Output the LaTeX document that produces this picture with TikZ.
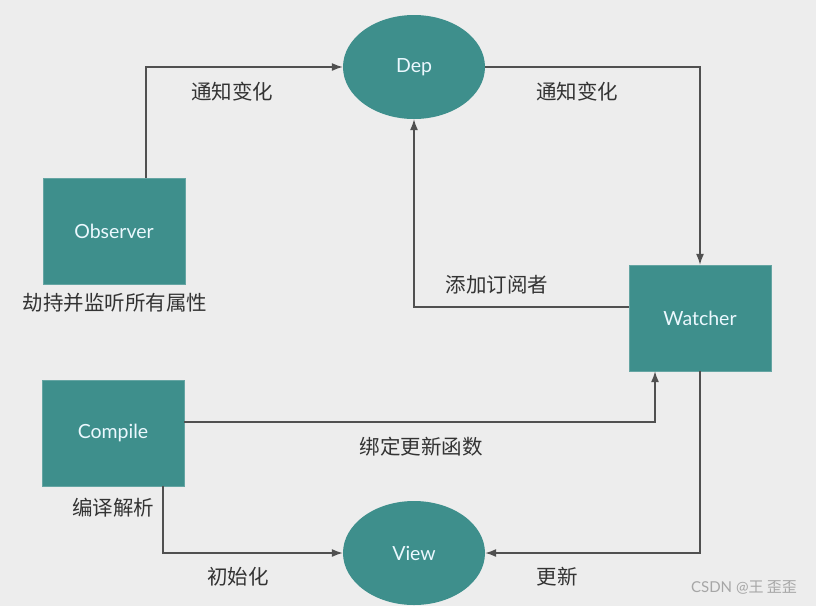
\documentclass[tikz,border=0pt]{standalone}
\usepackage{fontspec}
\setmainfont{Lato}
\newfontfamily\cjk{Noto Sans CJK SC}
\usetikzlibrary{arrows.meta,calc,shapes.geometric}

\definecolor{fond}{HTML}{EDEDED}
\definecolor{sarcelle}{HTML}{3E8F8C}
\definecolor{trait}{HTML}{505050}
\definecolor{texte}{HTML}{333333}

\tikzset{
    boite/.style={fill=sarcelle, draw=sarcelle!80!white, minimum width=142pt, minimum height=106pt,
        text=white!92!cyan, font=\fontsize{19.5}{22}\selectfont},
    bulle/.style={ellipse, fill=sarcelle, minimum width=142pt, minimum height=104pt,
        text=white!92!cyan, font=\fontsize{19.5}{22}\selectfont},
    fleche/.style={draw=trait, line width=1.3pt, -{Latex[length=11pt,width=8pt]}},
    etiquette/.style={text=texte, font=\cjk\fontsize{20.5}{23}\selectfont}
}

\begin{document}
\begin{tikzpicture}[x=1pt, y=-1pt]

    % fond
    \fill[fond] (0, 0) rectangle (816, 606);
    \useasboundingbox (0, 0) rectangle (816, 606);

    \node[bulle] (dep) at (414, 67) {Dep};
    \node[bulle] (view) at (414, 553) {View};

    \node[boite] (obs) at (114, 231) {Observer};
    \node[boite] (cmp) at (113, 433) {Compile};
    \node[boite] (wat) at (700, 318) {Watcher};

    % fleches
    \draw[fleche] ([xshift=32pt]obs.north) |- (dep.west);
    \draw[fleche] (dep.east) -| (wat.north);
    \draw[fleche] ([yshift=11pt]wat.west) -| (dep.south);
    \draw[fleche] ([yshift=11pt]cmp.east) -| ([xshift=-45pt]wat.south);
    \draw[fleche] ([xshift=50pt]cmp.south) |- (view.west);
    \draw[fleche] (wat.south) |- (view.east);

    % etiquettes
    \node[etiquette] (l1) at (232, 92) {通知变化};
    \node[etiquette] (l2) at (577, 92) {通知变化};
    \node[etiquette] (l3) at (497, 285) {添加订阅者};
    \node[etiquette] (l4) at (115, 303) {劫持并监听所有属性};
    \node[etiquette] (l5) at (421, 447) {绑定更新函数};
    \node[etiquette] (l6) at (113, 508) {编译解析};
    \node[etiquette] (l7) at (238, 577) {初始化};
    \node[etiquette] (l8) at (557, 577) {更新};

    \node[text=gray!70, font=\fontsize{15}{17}\selectfont] (csdn) at (744, 587) {CSDN @\cjk{王 歪歪}};

\end{tikzpicture}
\end{document}
